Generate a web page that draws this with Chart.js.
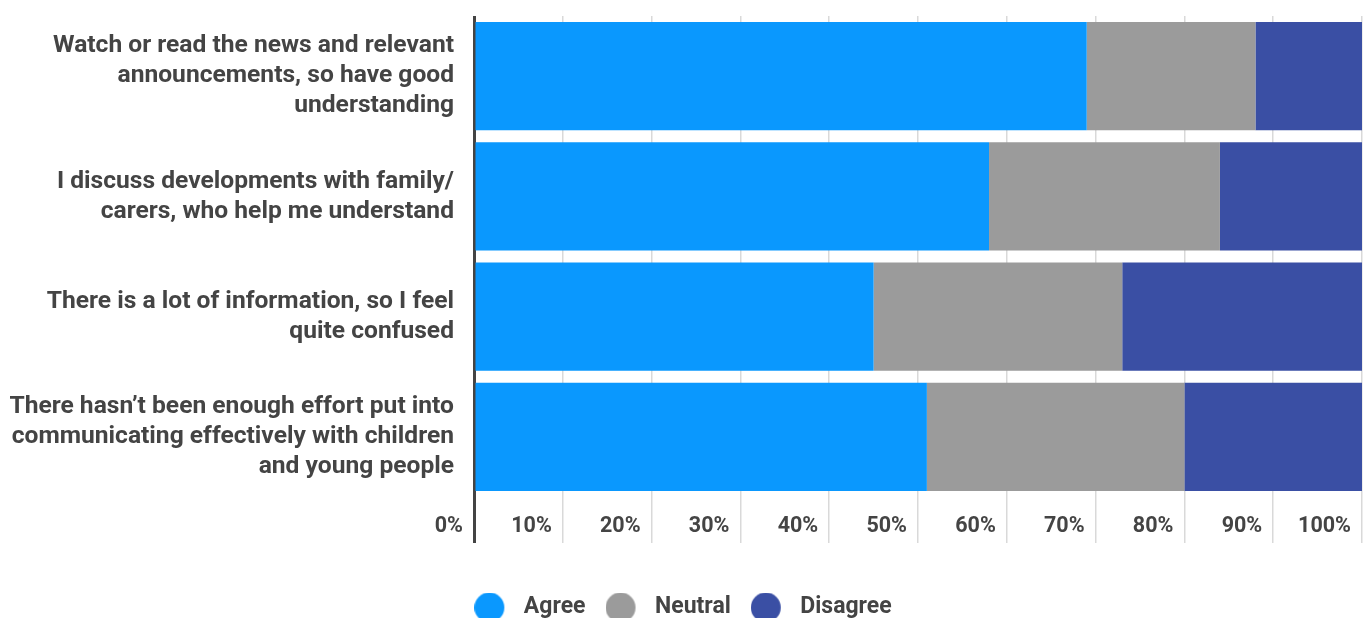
<!DOCTYPE html>
<html>
<head>
<meta charset="utf-8">
<script src="https://cdn.jsdelivr.net/npm/chart.js@4.4.1/dist/chart.umd.min.js"></script>
<style>
  html, body { margin: 0; padding: 0; background: #fff; }
  #wrap { width: 1370px; height: 618px; position: relative; }
</style>
</head>
<body>
<div id="wrap"><canvas id="surveyChart"></canvas></div>
<script>
// 分类标签（多行）
const categories = [
  ['Watch or read the news and relevant', 'announcements, so have good', 'understanding'],
  ['I discuss developments with family/', 'carers, who help me understand'],
  ['There is a lot of information, so I feel', 'quite confused'],
  ['There hasn\u2019t been enough effort put into', 'communicating effectively with children', 'and young people']
];

// 各系列百分比
const agree = [69, 58, 45, 51];
const neutral = [19, 26, 28, 29];
const disagree = [12, 16, 27, 20];

const seriesNames = ['Agree', 'Neutral', 'Disagree'];
const seriesColors = ['#0A98FE', '#9B9B9B', '#3A4FA4'];

const textColor = '#444444';

// 图例圆点：直径30，左对齐，右侧留空
function legendDot(color) {
  const c = document.createElement('canvas');
  c.width = 38;
  c.height = 30;
  const g = c.getContext('2d');
  g.fillStyle = color;
  g.beginPath();
  g.arc(15, 15, 15, 0, Math.PI * 2);
  g.fill();
  return c;
}

const ctx = document.getElementById('surveyChart').getContext('2d');

new Chart(ctx, {
  type: 'bar',
  data: {
    labels: categories,
    datasets: seriesNames.map(function(name, i) {
      return {
        label: name,
        data: [agree, neutral, disagree][i],
        backgroundColor: seriesColors[i],
        pointStyle: legendDot(seriesColors[i])
      };
    })
  },
  options: {
    indexAxis: 'y',
    responsive: true,
    maintainAspectRatio: false,
    animation: false,
    datasets: {
      bar: { barPercentage: 0.9, categoryPercentage: 1.0 }
    },
    layout: {
      padding: { top: 16, right: 8, left: 4, bottom: -11 }
    },
    plugins: {
      tooltip: { enabled: false },
      legend: {
        position: 'bottom',
        labels: {
          usePointStyle: true,
          pointStyleWidth: 38,
          boxHeight: 23,
          padding: 20,
          color: textColor,
          font: { family: 'Roboto', size: 23, weight: 'bold' }
        }
      }
    },
    scales: {
      x: {
        stacked: true,
        min: 0,
        max: 100,
        ticks: {
          stepSize: 10,
          align: 'end',
          labelOffset: -11,
          padding: -29,
          maxRotation: 0,
          color: textColor,
          font: { family: 'Roboto', size: 21.5, weight: 'bold' },
          callback: function(value) { return value + '%'; }
        },
        grid: {
          drawTicks: true,
          tickLength: 46,
          color: function(c) { return c.index === 0 ? '#444444' : '#D9D9D9'; },
          lineWidth: function(c) { return c.index === 0 ? 3 : 1.5; }
        },
        border: { display: false },
        afterFit: function(scale) { scale.height = 79; }
      },
      y: {
        stacked: true,
        ticks: {
          padding: 20,
          color: textColor,
          font: { family: 'Roboto', size: 24.6, weight: 'bold', lineHeight: 1.22 }
        },
        grid: { display: false, drawTicks: false },
        border: { display: false },
        afterFit: function(scale) {
          scale.width = 470;
          scale.paddingTop = 0;
          scale.paddingBottom = 0;
        }
      }
    }
  }
});
</script>
</body>
</html>
